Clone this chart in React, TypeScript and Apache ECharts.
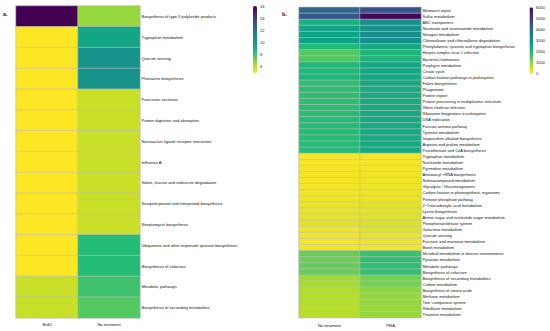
import React, { useEffect, useRef } from "react";
import * as echarts from "echarts";

const colsA = ["BrdU", "No treatment"];
const rowsA = [
  "Biosynthesis of type II polyketide products",
  "Tryptophan metabolism",
  "Quorum sensing",
  "Phenazine biosynthesis",
  "Pancreatic secretion",
  "Protein digestion and absorption",
  "Neuroactive ligand−receptor interaction",
  "Influenza A",
  "Valine, leucine and isoleucine degradation",
  "Sesquiterpenoid and triterpenoid biosynthesis",
  "Streptomycin biosynthesis",
  "Ubiquinone and other terpenoid−quinone biosynthesis",
  "Biosynthesis of cofactors",
  "Metabolic pathways",
  "Biosynthesis of secondary metabolites",
];
const brduA = [16, 5, 5, 5, 5, 5, 5, 5, 5, 5, 5, 5, 5, 5.9, 5.9];
const noTreatA = [6.7, 9.6, 10.5, 10.5, 5.9, 5.9, 5.9, 5.9, 5.9, 5.9, 5.9, 8.6, 8.6, 8.1, 7.7];
const ticksA = [6, 8, 10, 12, 14, 16];

const colsB = ["No treatment", "PMA"];
const rowsB = [
  "Mismatch repair",
  "Sulfur metabolism",
  "ABC transporters",
  "Nicotinate and nicotinamide metabolism",
  "Nitrogen metabolism",
  "Chloroalkane and chloroalkene degradation",
  "Phenylalanine, tyrosine and tryptophan biosynthesis",
  "Herpes simplex virus 1 infection",
  "Bacterial chemotaxis",
  "Porphyrin metabolism",
  "Citrate cycle",
  "Carbon fixation pathways in prokaryotes",
  "Folate biosynthesis",
  "Phagosome",
  "Protein export",
  "Protein processing in endoplasmic reticulum",
  "Vibrio cholerae infection",
  "Ribosome biogenesis in eukaryotes",
  "DNA replication",
  "Fanconi anemia pathway",
  "Tyrosine metabolism",
  "Isoquinoline alkaloid biosynthesis",
  "Arginine and proline metabolism",
  "Pantothenate and CoA biosynthesis",
  "Tryptophan metabolism",
  "Nucleotide metabolism",
  "Pyrimidine metabolism",
  "Aminoacyl−tRNA biosynthesis",
  "Selenocompound metabolism",
  "Glycolysis / Gluconeogenesis",
  "Carbon fixation in photosynthetic organisms",
  "Pentose phosphate pathway",
  "2−Oxocarboxylic acid metabolism",
  "Lysine biosynthesis",
  "Amino sugar and nucleotide sugar metabolism",
  "Phosphotransferase system",
  "Galactose metabolism",
  "Quorum sensing",
  "Fructose and mannose metabolism",
  "Biotin metabolism",
  "Microbial metabolism in diverse environments",
  "Pyruvate metabolism",
  "Metabolic pathways",
  "Biosynthesis of cofactors",
  "Biosynthesis of secondary metabolites",
  "Carbon metabolism",
  "Biosynthesis of amino acids",
  "Methane metabolism",
  "Two−component system",
  "Riboflavin metabolism",
  "Thiamine metabolism",
];
const noTreatB = [
  4100, 4400, 2200, 2600, 2600, 2700, 2000, 1500, 1500, 2050, 2050, 2100, 1850,
  1850, 1850, 1850, 1900, 1900, 1950, 1950, 1950, 1950, 1950, 1950,
  40, 60, 60, 80, 80, 100, 100, 120, 200, 200, 220, 250, 150, 120, 100, 80,
  1300, 1250, 1300, 1300, 850, 800, 720, 700, 700, 680, 680,
];
const pmaB = [
  4500, 5900, 3000, 3000, 3100, 3050, 2450, 2100, 2150, 2500, 2500, 2500, 2450,
  2400, 2400, 2400, 2400, 2400, 2400, 2400, 2400, 2400, 2400, 2400,
  60, 80, 80, 120, 120, 150, 150, 170, 250, 250, 270, 320, 300, 200, 150, 100,
  1750, 1800, 1850, 1800, 1200, 1200, 1000, 950, 950, 930, 920,
];
const ticksB = [0, 1000, 2000, 3000, 4000, 5000, 6000];

const viridisLowToHigh = [
  "#fde725", "#b8de29", "#62cc5c", "#1fba78", "#0fa088",
  "#1c848e", "#2e6a8e", "#3b4a8a", "#482878", "#440154",
];

const FONT = "Liberation Sans, Arial, Helvetica, sans-serif";

function buildData(cols: number[][]) {
  const out: number[][] = [];
  cols.forEach((col, ci) => col.forEach((v, ri) => out.push([ci, ri, v])));
  return out;
}

export default function App() {
  const ref = useRef<HTMLDivElement>(null);
  useEffect(() => {
    if (!ref.current) return;
    const chart = echarts.init(ref.current, null, { renderer: "svg" });
    const cellStyle = { borderColor: "#bdbdbd", borderWidth: 0.6 };
    const hiddenAxis = { show: false };
    const plain = (v: number) => String(v);
    chart.setOption({
      animation: false,
      backgroundColor: "#ffffff",
      textStyle: { fontFamily: FONT },
      grid: [
        { left: 16, top: 6, width: 124, height: 312 },
        { left: 299, top: 7.3, width: 122, height: 310.5 },
        { left: 253, top: 6, width: 4, height: 67 },
        { left: 529.5, top: 7.3, width: 3.5, height: 66.5 },
      ],
      xAxis: [
        {
          gridIndex: 0, type: "category", data: colsA,
          axisLine: { show: false }, axisTick: { show: false },
          axisLabel: { fontSize: 4, color: "#111", margin: 4, fontFamily: FONT },
        },
        {
          gridIndex: 1, type: "category", data: colsB,
          axisLine: { show: false }, axisTick: { show: false },
          axisLabel: { fontSize: 4, color: "#111", margin: 6, fontFamily: FONT },
        },
        { gridIndex: 2, type: "value", ...hiddenAxis },
        { gridIndex: 3, type: "value", ...hiddenAxis },
      ],
      yAxis: [
        {
          gridIndex: 0, type: "category", data: rowsA, inverse: true, position: "right",
          axisLine: { show: false }, axisTick: { show: false },
          axisLabel: { fontSize: 4, color: "#111", margin: 1.5, interval: 0, fontFamily: FONT },
        },
        {
          gridIndex: 1, type: "category", data: rowsB, inverse: true, position: "right",
          axisLine: { show: false }, axisTick: { show: false },
          axisLabel: { fontSize: 4, color: "#111", margin: 1.5, interval: 0, fontFamily: FONT },
        },
        {
          gridIndex: 2, type: "value", min: 5, max: 16, position: "right",
          axisLine: { show: false }, axisTick: { show: false }, splitLine: { show: false },
          axisLabel: { fontSize: 4, color: "#111", margin: 3, customValues: ticksA, formatter: plain, fontFamily: FONT },
        },
        {
          gridIndex: 3, type: "value", min: 0, max: 6000, position: "right",
          axisLine: { show: false }, axisTick: { show: false }, splitLine: { show: false },
          axisLabel: { fontSize: 4, color: "#111", margin: 3, customValues: ticksB, formatter: plain, fontFamily: FONT },
        },
      ],
      visualMap: [
        {
          type: "continuous", seriesIndex: 0, min: 5, max: 16, calculable: false,
          left: 253, top: 6, itemWidth: 4, itemHeight: 67, padding: 0,
          inRange: { color: viridisLowToHigh }, text: null, showLabel: false,
        },
        {
          type: "continuous", seriesIndex: 1, min: 0, max: 6000, calculable: false,
          left: 529.5, top: 7.3, itemWidth: 3.5, itemHeight: 66.5, padding: 0,
          inRange: { color: viridisLowToHigh }, text: null, showLabel: false,
        },
      ],
      series: [
        {
          type: "heatmap", xAxisIndex: 0, yAxisIndex: 0,
          data: buildData([brduA, noTreatA]), itemStyle: cellStyle,
        },
        {
          type: "heatmap", xAxisIndex: 1, yAxisIndex: 1,
          data: buildData([noTreatB, pmaB]), itemStyle: cellStyle,
        },
      ],
      graphic: [
        {
          type: "text", left: 3, top: 11,
          style: { text: "a.", fontSize: 5.5, fontWeight: "bold", fill: "#222", fontFamily: FONT },
        },
        {
          type: "text", left: 282, top: 11,
          style: { text: "b.", fontSize: 5.5, fontWeight: "bold", fill: "#222", fontFamily: FONT },
        },
      ],
    });
    return () => chart.dispose();
  }, []);
  return (
    <div
      ref={ref}
      style={{ position: "fixed", left: 0, top: 0, width: 550, height: 331, background: "#fff" }}
    />
  );
}
